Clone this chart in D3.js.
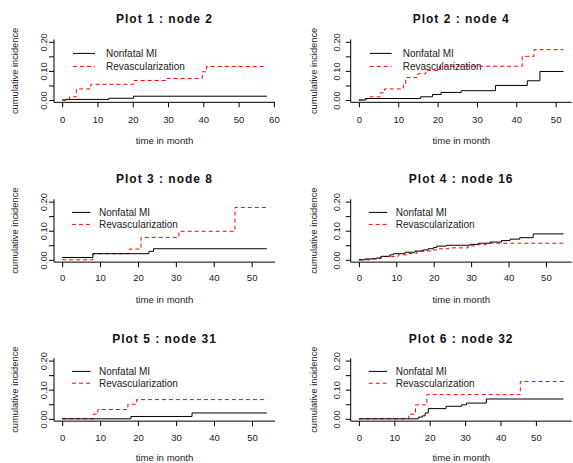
<!DOCTYPE html>
<html>
<head>
<meta charset="utf-8">
<script src="https://cdn.jsdelivr.net/npm/d3@7"></script>
<style>
  html, body { margin: 0; padding: 0; background: #fff; }
  svg { display: block; }
</style>
</head>
<body>
<div id="chart"></div>
<script>
(function () {
  "use strict";

  // ---- data ----
  const panelTitles = ["Plot 1 : node 2", "Plot 2 : node 4", "Plot 3 : node 8",
                       "Plot 4 : node 16", "Plot 5 : node 31", "Plot 6 : node 32"];
  const seriesNames = ["Nonfatal MI", "Revascularization"];
  // last follow-up time per panel (month)
  const followUpEnd = [58, 52, 54, 54.7, 53.9, 57.8];
  const xTicks = [
    [0, 10, 20, 30, 40, 50, 60],
    [0, 10, 20, 30, 40, 50],
    [0, 10, 20, 30, 40, 50],
    [0, 10, 20, 30, 40, 50],
    [0, 10, 20, 30, 40, 50],
    [0, 10, 20, 30, 40, 50]
  ];
  const yTicks = [0, 0.05, 0.10, 0.15, 0.20];
  const yTickLabels = ["0.00", "", "0.10", "", "0.20"];

  // step points [time, cumulative incidence]
  const miSteps = [
    [[0, 0], [1, 0.002], [13.2, 0.006], [20.2, 0.013]],
    [[0, 0], [1.8, 0.005], [15.7, 0.011], [18.7, 0.019], [20.9, 0.026], [26, 0.032],
     [34.7, 0.05], [42.8, 0.066], [46, 0.098]],
    [[0, 0.008], [8.1, 0.021], [22.9, 0.029], [24.1, 0.038]],
    [[0, 0], [1.6, 0.003], [4.7, 0.006], [6, 0.012], [8.3, 0.017], [9.2, 0.021],
     [12.3, 0.026], [15, 0.03], [17.2, 0.034], [18.5, 0.038], [19.9, 0.042],
     [20.8, 0.047], [23.4, 0.05], [29.7, 0.053], [31.9, 0.057], [35, 0.061],
     [38.1, 0.066], [40.4, 0.071], [43, 0.076], [46.6, 0.089]],
    [[0, 0], [18.1, 0.008], [34.2, 0.02]],
    [[0, 0], [16.8, 0.006], [17.9, 0.01], [18.7, 0.02], [19.6, 0.035], [24.6, 0.043],
     [29, 0.048], [30.4, 0.054], [36, 0.068]]
  ];
  const revSteps = [
    [[0, 0], [2.1, 0.011], [4.0, 0.038], [8.1, 0.054], [20.3, 0.067], [29.7, 0.074],
     [39.7, 0.097], [40.9, 0.115]],
    [[0, 0], [1.5, 0.005], [2.5, 0.011], [5.5, 0.025], [6.5, 0.038], [11.3, 0.055],
     [11.9, 0.077], [15, 0.09], [17, 0.102], [20.5, 0.116], [41.5, 0.15], [44.5, 0.173]],
    [[0, 0], [8.1, 0.021], [17.7, 0.037], [20.8, 0.077], [30.8, 0.098], [45.6, 0.18]],
    [[0, 0], [3.5, 0.004], [5.7, 0.011], [10.5, 0.017], [13, 0.022], [15.5, 0.03],
     [19.5, 0.034], [21.5, 0.038], [24, 0.041], [29.2, 0.048], [31.5, 0.052], [34, 0.057]],
    [[0, 0], [8.2, 0.016], [9.4, 0.032], [17.3, 0.05], [19.6, 0.066]],
    [[0, 0], [14.1, 0.016], [16, 0.048], [19.2, 0.083], [45.6, 0.128]]
  ];

  // ---- layout (pixels, measured on the reference) ----
  const W = 573, H = 463;
  const FONT = "'Liberation Sans', Arial, Helvetica, sans-serif";
  const PLOT_W = 221;
  const cols = [
    { left: 54,    yTickDx: -10.7, yLabDx: -39 },
    { left: 350.7, yTickDx: -14.5, yLabDx: -36.3 }
  ];
  const rows = [
    { y0: 100,   title: 19,    tick: 119.3, xlab: 140,
      leg: { x1: 19, x2: 41, tx: 52, y1: 11.6, y2: 24.6 } },
    { y0: 259.8, title: 179.3, tick: 277.7, xlab: 299.3,
      leg: { x1: 18, x2: 36.5, tx: 45, y1: 10.8, y2: 22.8 } },
    { y0: 418.8, title: 339.3, tick: 437.7, xlab: 457.7,
      leg: { x1: 18, x2: 36.5, tx: 45, y1: 10.8, y2: 22.6 } }
  ];
  const PX_PER_02 = 58.2;   // pixels between 0.00 and 0.20

  const svg = d3.select("#chart").append("svg")
    .attr("width", W).attr("height", H)
    .style("font-family", FONT);
  svg.append("rect").attr("width", W).attr("height", H).attr("fill", "#fff");

  const styles = [
    { stroke: "#000", dash: null },
    { stroke: "#ff0000", dash: "4,3" }
  ];

  panelTitles.forEach((title, i) => {
    const col = cols[i % 2], row = rows[Math.floor(i / 2)];
    const left = col.left;
    const xmax = followUpEnd[i];

    // R style 4% axis extension
    const x = d3.scaleLinear()
      .domain([-0.04 * xmax, 1.04 * xmax])
      .range([left, left + PLOT_W]);
    const y = d3.scaleLinear()
      .domain([0, 0.2])
      .range([row.y0, row.y0 - PX_PER_02]);
    const yBottom = y(-0.008), yTop = y(0.208);

    const g = svg.append("g");

    // title
    g.append("text")
      .attr("x", left + PLOT_W / 2).attr("y", row.title)
      .attr("text-anchor", "middle").attr("dominant-baseline", "central")
      .attr("font-size", "12px").attr("font-weight", "bold")
      .attr("letter-spacing", "1px").attr("fill", "#111")
      .text(title);

    // x axis (bottom side of the L box)
    const xAxis = d3.axisBottom(x).tickValues(xTicks[i]).tickSize(5).tickSizeOuter(0)
      .tickFormat(d3.format("d"));
    const gx = g.append("g").attr("transform", `translate(0,${yBottom})`).call(xAxis);
    gx.select(".domain").attr("d", `M${left},0H${left + PLOT_W}`).attr("stroke", "#000");
    gx.selectAll(".tick line").attr("stroke", "#000");
    gx.selectAll(".tick text")
      .attr("y", row.tick - yBottom).attr("dy", null)
      .attr("dominant-baseline", "central")
      .attr("font-size", "9.6px").attr("font-family", FONT).attr("fill", "#222");

    // y axis (left side of the L box)
    const yAxis = d3.axisLeft(y).tickValues(yTicks).tickSize(5).tickSizeOuter(0)
      .tickFormat((d, k) => yTickLabels[k]);
    const gy = g.append("g").attr("transform", `translate(${left},0)`).call(yAxis);
    gy.select(".domain").attr("d", `M0,${yTop}V${yBottom}`).attr("stroke", "#000");
    gy.selectAll(".tick line").attr("stroke", "#000");
    gy.selectAll(".tick text")
      .attr("x", null).attr("dy", null)
      .attr("transform", `translate(${col.yTickDx},0) rotate(-90)`)
      .attr("text-anchor", "middle").attr("dominant-baseline", "central")
      .attr("font-size", "9.4px").attr("font-family", FONT).attr("fill", "#222");

    // axis labels
    g.append("text")
      .attr("x", left + PLOT_W / 2).attr("y", row.xlab)
      .attr("text-anchor", "middle").attr("dominant-baseline", "central")
      .attr("font-size", "9.6px").attr("fill", "#222")
      .text("time in month");
    g.append("text")
      .attr("transform", `translate(${left + col.yLabDx},${(yTop + yBottom) / 2}) rotate(-90)`)
      .attr("text-anchor", "middle").attr("dominant-baseline", "central")
      .attr("font-size", "9.3px").attr("fill", "#222")
      .text("cumulative incidence");

    // step curves
    const line = d3.line()
      .x(d => x(d[0])).y(d => y(d[1]))
      .curve(d3.curveStepAfter);
    [revSteps[i], miSteps[i]].forEach((steps, k) => {
      const s = styles[k === 0 ? 1 : 0];
      const pts = steps.concat([[xmax, steps[steps.length - 1][1]]]);
      g.append("path")
        .attr("d", line(pts))
        .attr("fill", "none")
        .attr("stroke", s.stroke).attr("stroke-width", 1)
        .attr("stroke-dasharray", s.dash);
    });

    // legend (no box)
    const leg = row.leg;
    const y02 = y(0.2);
    seriesNames.forEach((name, k) => {
      const ly = y02 + (k === 0 ? leg.y1 : leg.y2);
      g.append("line")
        .attr("x1", left + leg.x1).attr("x2", left + leg.x2)
        .attr("y1", ly).attr("y2", ly)
        .attr("stroke", styles[k].stroke).attr("stroke-width", 1)
        .attr("stroke-dasharray", styles[k].dash);
      g.append("text")
        .attr("x", left + leg.tx).attr("y", ly)
        .attr("dominant-baseline", "central")
        .attr("font-size", "10px").attr("fill", "#222")
        .text(name);
    });
  });
})();
</script>
</body>
</html>
